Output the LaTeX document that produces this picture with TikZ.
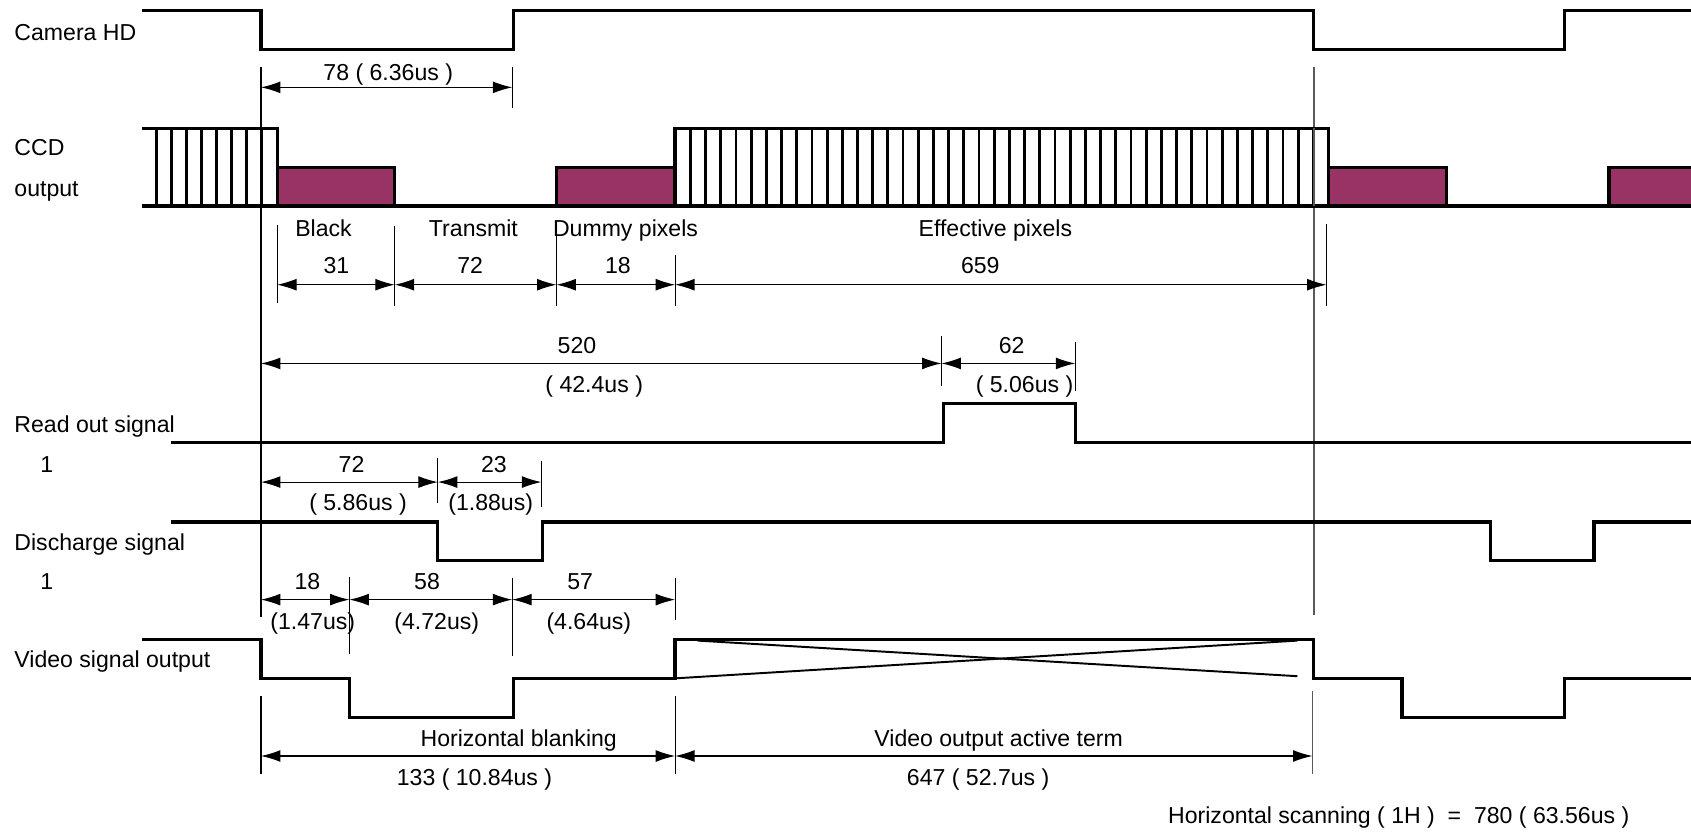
\documentclass[tikz,border=0pt]{standalone}
\usepackage{fontspec}
\setmainfont{Liberation Sans}
\usetikzlibrary{arrows.meta}
\definecolor{pix}{RGB}{153,51,102}
\begin{document}
\begin{tikzpicture}[x=0.5pt,y=-0.5pt,
  sig/.style={line width=1.5pt, line join=miter, line cap=rect},
  stripe/.style={line width=1.3pt},
  thinln/.style={line width=0.5pt},
  guide/.style={line width=0.9pt, draw=black!65},
  dimarr/.style={line width=0.5pt, {Latex[length=9pt,width=5.5pt]}-{Latex[length=9pt,width=5.5pt]}},
  xline/.style={line width=0.9pt},
  lbl/.style={font=\fontsize{10.7}{12}\selectfont, inner sep=0pt, anchor=base},
  lblw/.style={lbl, anchor=base west}]
\useasboundingbox (0,0) rectangle (1568,772);

% ---------- row labels ----------
\node[lblw] (lcam) at (13,38) {Camera HD};
\node[lblw] (lccd) at (13,144) {CCD};
\node[lblw] (lout) at (13,182) {output};
\node[lblw] (lread) at (13,401) {Read out signal};
\node[lblw] (lread1) at (37,438) {1};
\node[lblw] (ldis) at (13,510) {Discharge signal};
\node[lblw] (ldis1) at (37,547) {1};
\node[lblw] (lvid) at (13,619) {Video signal output};

% ---------- guide lines ----------
\draw[line width=0.6pt] (242,62) -- (242,572);
\draw[guide] (1218,62) -- (1218,570);

% ---------- Camera HD ----------
\draw[sig] (133,10) -- (242,10) -- (242,46) -- (476,46) -- (476,10) -- (1218,10) -- (1218,46) -- (1451,46) -- (1451,10) -- (1568,10);
\draw[thinln] (475,62) -- (475,100);
\draw[dimarr] (242,81) -- (475,81);
\node[lbl] (d78) at (360,75) {78 ( 6.36us )};

% ---------- CCD output ----------
\filldraw[fill=pix, sig] (257,155) rectangle (366,191);
\filldraw[fill=pix, sig] (516,155) rectangle (626,191);
\filldraw[fill=pix, sig] (1232,155) rectangle (1341,191);
\fill[pix] (1492,155) rectangle (1568,191);
\draw[sig] (1492,191) -- (1492,155) -- (1568,155);
\draw[sig] (133,191) -- (1568,191);
\draw[sig] (133,119) -- (257,119) -- (257,191);
\foreach \k in {0,...,7} \draw[stripe] ({145+13.9*\k},119) -- ({145+13.9*\k},191);
\draw[sig] (626,119) rectangle (1232,191);
\foreach \k in {1,...,42} \draw[stripe] ({626+14.093*\k},119) -- ({626+14.093*\k},191);
\draw[guide] (1218,119) -- (1218,191);

\node[lbl] (tblack) at (300,219) {Black};
\node[lbl] (ttrans) at (439,219) {Transmit};
\node[lbl] (tdummy) at (580,219) {Dummy pixels};
\node[lbl] (teff) at (923,219) {Effective pixels};

\draw[thinln] (257,209) -- (257,281);
\draw[thinln] (366,210) -- (366,284);
\draw[thinln] (516,214) -- (516,284);
\draw[thinln] (626,236) -- (626,284);
\draw[thinln] (1230,208) -- (1230,284);
\draw[dimarr] (257,264) -- (366,264);
\draw[dimarr] (366,264) -- (516,264);
\draw[dimarr] (516,264) -- (626,264);
\draw[dimarr] (626,264) -- (1230,264);
\node[lbl] (n31) at (312,254) {31};
\node[lbl] (n72a) at (436,254) {72};
\node[lbl] (n18a) at (573,254) {18};
\node[lbl] (n659) at (909,254) {659};

% ---------- 520 / 62 ----------
\draw[thinln] (873,312) -- (873,358);
\draw[thinln] (997,317) -- (997,363);
\draw[dimarr] (242,337) -- (873,337);
\draw[dimarr] (873,337) -- (997,337);
\node[lbl] (n520) at (535,328) {520};
\node[lbl] (u520) at (551,364) {( 42.4us )};
\node[lbl] (n62) at (938,328) {62};
\node[lbl] (u62) at (950,364) {( 5.06us )};

% ---------- Read out signal ----------
\draw[sig] (160,410) -- (875,410) -- (875,374) -- (997,374) -- (997,410) -- (1568,410);
\draw[thinln] (406,425) -- (406,466);
\draw[thinln] (502,427) -- (502,470);
\draw[dimarr] (242,447) -- (406,447);
\draw[dimarr] (406,447) -- (502,447);
\node[lbl] (n72b) at (326,438) {72};
\node[lbl] (u72b) at (332,473) {( 5.86us )};
\node[lbl] (n23) at (458,438) {23};
\node[lbl] (u23) at (455,473) {(1.88us)};

% ---------- Discharge signal ----------
\draw[sig] (160,484) -- (406,484) -- (406,520) -- (503,520) -- (503,484) -- (1382,484) -- (1382,520) -- (1478,520) -- (1478,484) -- (1568,484);
\draw[thinln] (324,535) -- (324,606);
\draw[thinln] (475,536) -- (475,608);
\draw[thinln] (626,536) -- (626,575);
\draw[dimarr] (242,556) -- (324,556);
\draw[dimarr] (324,556) -- (475,556);
\draw[dimarr] (475,556) -- (626,556);
\node[lbl] (n18b) at (285,547) {18};
\node[lbl] (u18b) at (290,584) {(1.47us)};
\node[lbl] (n58) at (396,547) {58};
\node[lbl] (u58) at (405,584) {(4.72us)};
\node[lbl] (n57) at (538,547) {57};
\node[lbl] (u57) at (546,584) {(4.64us)};

% ---------- Video signal output ----------
\draw[sig] (133,593) -- (242,593) -- (242,629) -- (324,629) -- (324,665) -- (476,665) -- (476,629) -- (626,629) -- (626,593) -- (1218,593) -- (1218,629) -- (1300,629) -- (1300,665) -- (1451,665) -- (1451,629) -- (1568,629);
\draw[xline] (626,629) -- (1203,594);
\draw[xline] (647,594) -- (1203,627);

% ---------- bottom dimensions ----------
\draw[thinln] (242,645) -- (242,718);
\draw[thinln] (626,645) -- (626,718);
\draw[guide] (1217,641) -- (1217,718);
\draw[dimarr] (242,701) -- (626,701);
\draw[dimarr] (626,701) -- (1217,701);
\node[lbl] (thb) at (481,692) {Horizontal blanking};
\node[lbl] (n133) at (440,728) {133 ( 10.84us )};
\node[lbl] (tvo) at (926,692) {Video output active term};
\node[lbl] (n647) at (907,728) {647 ( 52.7us )};
\node[lbl] (ths) at (1297,764) {Horizontal scanning ( 1H )\ \ =\ \ 780 ( 63.56us )};
\end{tikzpicture}
\end{document}
